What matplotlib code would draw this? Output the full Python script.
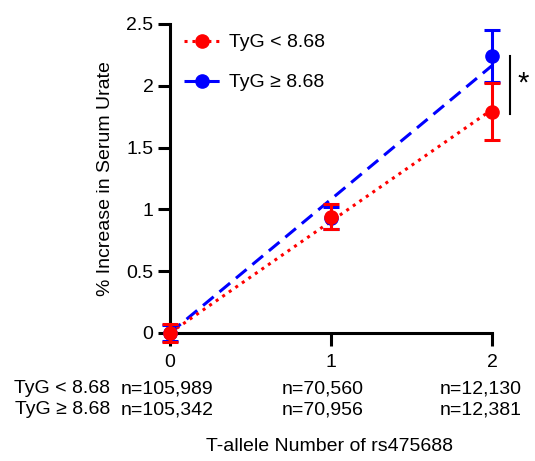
import matplotlib.pyplot as plt
import numpy as np

plt.rcParams['font.family'] = ['Liberation Sans', 'DejaVu Sans']

alleles = [0, 1, 2]
low_mean = [0.0, 0.94, 1.79]
low_err = [0.075, 0.10, 0.23]
high_mean = [0.0, 0.93, 2.24]
high_err = [0.065, 0.09, 0.21]
low_n = ['n=105,989', 'n=70,560', 'n=12,130']
high_n = ['n=105,342', 'n=70,956', 'n=12,381']
low_label = 'TyG < 8.68'
high_label = 'TyG \u2265 8.68'

red = '#ff0000'
blue = '#0000ff'
fs = 14

fig = plt.figure(figsize=(5.35, 4.61), dpi=100)
ax = fig.add_axes([0.318, 0.278, 0.602, 0.670])

x = np.array(alleles, dtype=float)


def fit_origin(y):
    # slope of a line through the origin
    y = np.array(y)
    return np.sum(x * y) / np.sum(x * x)


xx = np.array([0, 2])
ax.plot(xx, fit_origin(high_mean) * xx, color=blue, ls=(0, (4.5, 2.5)), lw=2.2)
ax.plot(xx, fit_origin(low_mean) * xx, color=red, ls=(0, (1, 1.6)), lw=2.2)

ax.errorbar(x, high_mean, yerr=high_err, fmt='o', color=blue, ms=9.5,
            capsize=6, capthick=2.2, elinewidth=2.2, clip_on=False, zorder=4)
ax.errorbar(x, low_mean, yerr=low_err, fmt='o', color=red, ms=9.5,
            capsize=6, capthick=2.2, elinewidth=2.2, clip_on=False, zorder=5)

# legend handles
h1, = ax.plot([], [], color=red, ls=(0, (1, 1.6)), lw=2.2, marker='o', ms=9.5)
h2, = ax.plot([], [], color=blue, ls=(0, (4.5, 2.5)), lw=2.2, marker='o', ms=9.5)
ax.legend([h1, h2], [low_label, high_label], loc='upper left',
          bbox_to_anchor=(-0.012, 1.025), frameon=False, fontsize=fs,
          handlelength=1.85, handletextpad=0.5, labelspacing=1.15)

# significance bar
ax.plot([2.11, 2.11], [low_mean[2] - 0.02, high_mean[2]], color='black',
        lw=1.5, clip_on=False)
ax.text(2.19, (low_mean[2] + high_mean[2]) / 2, '*', fontsize=21,
        ha='center', va='center')

ax.set_xlim(0, 2)
ax.set_ylim(0, 2.5)
ax.set_xticks([0, 1, 2])
ax.set_yticks([0, 0.5, 1, 1.5, 2, 2.5])
ax.set_yticklabels(['0', '0.5', '1', '1.5', '2', '2.5'])
ax.spines['top'].set_visible(False)
ax.spines['right'].set_visible(False)
for s in ['left', 'bottom']:
    ax.spines[s].set_linewidth(2.2)
ax.tick_params(width=2.2, length=9, labelsize=fs)
ax.tick_params(axis='y', pad=3)
ax.tick_params(axis='x', pad=6)
ax.set_ylabel('% Increase in Serum Urate', fontsize=fs, labelpad=9)

# sample size rows
n_x = [-0.02, 0.95, 1.93]
trans = ax.get_xaxis_transform()
for xi, a, b in zip(n_x, low_n, high_n):
    ax.text(xi, -(388 - 332) / 309, a, transform=trans, ha='center',
            va='center', fontsize=fs, clip_on=False)
    ax.text(xi, -(409 - 332) / 309, b, transform=trans, ha='center',
            va='center', fontsize=fs, clip_on=False)
fig.text(110 / 535, 1 - 388 / 461, low_label, ha='right', va='center',
         fontsize=fs)
fig.text(110 / 535, 1 - 409 / 461, high_label, ha='right', va='center',
         fontsize=fs)
fig.text(330 / 535, 1 - 446 / 461, 'T-allele Number of rs475688',
         ha='center', va='center', fontsize=fs)

fig.savefig('out.png', dpi=100)
